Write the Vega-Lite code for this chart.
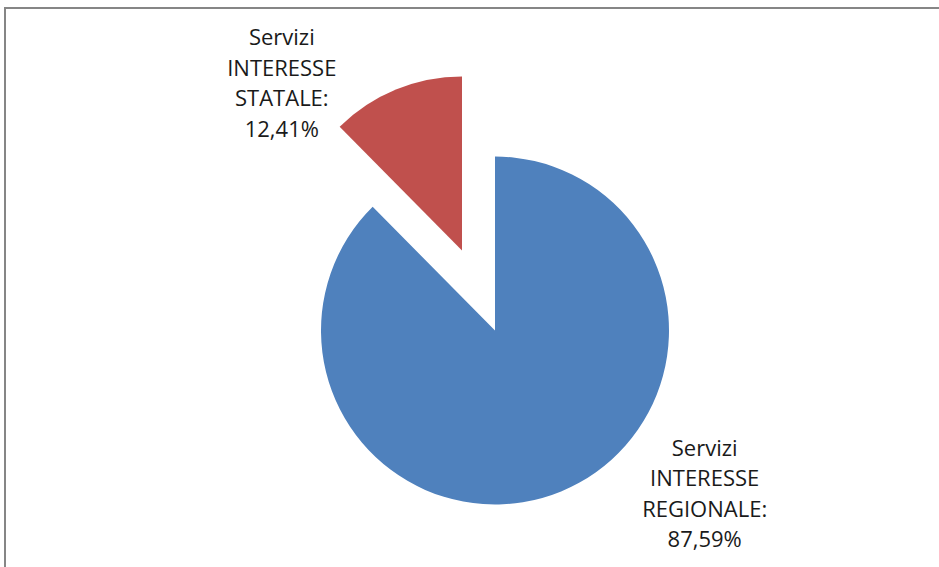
{
  "$schema": "https://vega.github.io/schema/vega-lite/v6.json",
  "width": 944,
  "height": 561,
  "autosize": {"type": "none"},
  "padding": {"left": 5, "top": 8, "right": -10, "bottom": -2},
  "background": "white",
  "data": {
    "values": [
      {"categoria": "Servizi INTERESSE REGIONALE", "quota": 87.59, "etichetta": "Servizi\nINTERESSE\nREGIONALE:\n87,59%"},
      {"categoria": "Servizi INTERESSE STATALE", "quota": 12.41, "etichetta": "Servizi\nINTERESSE\nSTATALE:\n12,41%"}
    ]
  },
  "layer": [
    {
      "data": {"values": [{"cornice": 1}]},
      "mark": {"type": "rect", "filled": false, "stroke": "#868686", "strokeWidth": 2},
      "encoding": {}
    },
    {
      "mark": {"type": "arc", "outerRadius": 174, "xOffset": 18, "yOffset": 42},
      "encoding": {
        "theta": {"field": "quota", "type": "quantitative", "stack": true},
        "order": {"field": "quota", "type": "quantitative", "sort": "descending"},
        "color": {"field": "categoria", "type": "nominal", "scale": {"domain": ["Servizi INTERESSE REGIONALE", "Servizi INTERESSE STATALE"], "range": ["#4F81BD", "#C0504D"]}, "legend": null},
        "opacity": {"condition": {"test": "datum.categoria == 'Servizi INTERESSE REGIONALE'", "value": 1}, "value": 0}
      }
    },
    {
      "mark": {"type": "arc", "outerRadius": 174, "xOffset": -15, "yOffset": -38},
      "encoding": {
        "theta": {"field": "quota", "type": "quantitative", "stack": true},
        "order": {"field": "quota", "type": "quantitative", "sort": "descending"},
        "color": {"field": "categoria", "type": "nominal", "legend": null},
        "opacity": {"condition": {"test": "datum.categoria == 'Servizi INTERESSE STATALE'", "value": 1}, "value": 0}
      }
    },
    {
      "mark": {"type": "text", "radius": 261, "dx": -96, "dy": -9, "font": "Open Sans", "fontSize": 22, "lineHeight": 30.5, "lineBreak": "\n", "color": "#1a1a1a", "align": "center", "baseline": "middle"},
      "encoding": {
        "theta": {"field": "quota", "type": "quantitative", "stack": true},
        "order": {"field": "quota", "type": "quantitative", "sort": "descending"},
        "text": {"field": "etichetta", "type": "nominal"},
        "opacity": {"condition": {"test": "datum.categoria == 'Servizi INTERESSE STATALE'", "value": 1}, "value": 0}
      }
    },
    {
      "mark": {"type": "text", "radius": 278, "dx": 122, "dy": -97, "font": "Open Sans", "fontSize": 22, "lineHeight": 30.5, "lineBreak": "\n", "color": "#1a1a1a", "align": "center", "baseline": "middle"},
      "encoding": {
        "theta": {"field": "quota", "type": "quantitative", "stack": true},
        "order": {"field": "quota", "type": "quantitative", "sort": "descending"},
        "text": {"field": "etichetta", "type": "nominal"},
        "opacity": {"condition": {"test": "datum.categoria == 'Servizi INTERESSE REGIONALE'", "value": 1}, "value": 0}
      }
    }
  ]
}
